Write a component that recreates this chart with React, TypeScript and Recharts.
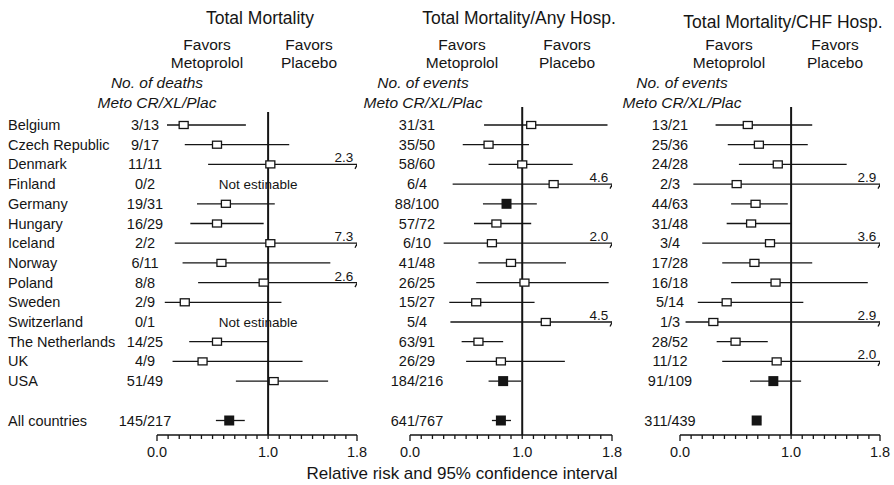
import React from 'react';
import { ComposedChart, Scatter, XAxis, YAxis, ErrorBar, ReferenceLine } from 'recharts';

const FONT = '"Liberation Sans", Arial, Helvetica, sans-serif';
const INK = '#151515';

// rows: 14 countries, a blank line, then the pooled estimate
const countries = [
  'Belgium', 'Czech Republic', 'Denmark', 'Finland', 'Germany', 'Hungary', 'Iceland',
  'Norway', 'Poland', 'Sweden', 'Switzerland', 'The Netherlands', 'UK', 'USA', 'All countries',
];
const rowPos = [0, 1, 2, 3, 4, 5, 6, 7, 8, 9, 10, 11, 12, 13, 15];

const xTicks = [0, 0.1, 0.2, 0.3, 0.4, 0.5, 0.6, 0.7, 0.8, 0.9, 1, 1.1, 1.2, 1.3, 1.4, 1.5, 1.6, 1.7, 1.8];
const xTickLabels = ['0.0', '1.0', '1.8'];

// Total mortality
const mortCounts = ['3/13', '9/17', '11/11', '0/2', '19/31', '16/29', '2/2', '6/11', '8/8', '2/9', '0/1', '14/25', '4/9', '51/49', '145/217'];
const mortRR = [0.24, 0.54, 1.02, null, 0.62, 0.54, 1.02, 0.58, 0.96, 0.25, null, 0.54, 0.41, 1.05, 0.65];
const mortLow = [0.09, 0.25, 0.46, null, 0.36, 0.30, 0.16, 0.23, 0.37, 0.07, null, 0.29, 0.14, 0.71, 0.53];
const mortHigh = [0.80, 1.19, 2.3, null, 1.06, 0.96, 7.3, 1.56, 2.6, 1.12, null, 1.0, 1.31, 1.54, 0.79];
const mortFilled = ['All countries'];

// Total mortality / any hospitalisation
const anyCounts = ['31/31', '35/50', '58/60', '6/4', '88/100', '57/72', '6/10', '41/48', '26/25', '15/27', '5/4', '63/91', '26/29', '184/216', '641/767'];
const anyRR = [1.08, 0.70, 1.0, 1.28, 0.86, 0.77, 0.73, 0.90, 1.02, 0.59, 1.21, 0.61, 0.81, 0.83, 0.81];
const anyLow = [0.66, 0.47, 0.70, 0.38, 0.65, 0.57, 0.30, 0.61, 0.59, 0.35, 0.36, 0.46, 0.50, 0.70, 0.73];
const anyHigh = [1.76, 1.06, 1.45, 4.6, 1.13, 1.08, 2.0, 1.39, 1.77, 1.11, 4.5, 0.83, 1.38, 0.99, 0.90];
const anyFilled = ['Germany', 'USA', 'All countries'];

// Total mortality / CHF hospitalisation
const chfCounts = ['13/21', '25/36', '24/28', '2/3', '44/63', '31/48', '3/4', '17/28', '16/18', '5/14', '1/3', '28/52', '11/12', '91/109', '311/439'];
const chfRR = [0.61, 0.71, 0.88, 0.51, 0.68, 0.64, 0.81, 0.67, 0.86, 0.42, 0.30, 0.50, 0.87, 0.84, 0.69];
const chfLow = [0.32, 0.43, 0.53, 0.12, 0.46, 0.42, 0.20, 0.38, 0.46, 0.16, 0.05, 0.33, 0.38, 0.63, 0.65];
const chfHigh = [1.19, 1.15, 1.50, 2.9, 0.97, 1.0, 3.6, 1.19, 1.69, 1.11, 2.9, 0.79, 2.0, 1.09, 0.73];
const chfFilled = ['USA', 'All countries'];

const XMAX = 1.8;
const NOT_EST_X = 0.91;
const ROW_Y0 = 125;
const ROW_STEP = 19.7;
const AXIS_Y = 435;
const TICK_SIZE = 4;
const TICK_MARGIN = 8;

function buildRows(rr, low, high, filled) {
  const marks = [];
  const cuts = [];
  const missing = [];
  rr.forEach((v, i) => {
    if (v === null) {
      missing.push({ x: NOT_EST_X, y: rowPos[i] });
      return;
    }
    const hi = Math.min(high[i], XMAX);
    marks.push({ x: v, y: rowPos[i], err: [v - low[i], hi - v], filled: filled.includes(countries[i]) });
    if (high[i] > XMAX) cuts.push({ x: XMAX, y: rowPos[i], label: high[i].toFixed(1) });
  });
  return { marks, cuts, missing };
}

const Marker = (props: any) => {
  const { cx, cy, payload } = props;
  if (payload.filled) return <rect x={cx - 5} y={cy - 5} width={10} height={10} fill={INK} />;
  return <rect x={cx - 4.5} y={cy - 3.5} width={9} height={7} fill="#fff" stroke={INK} strokeWidth={1.3} />;
};

const CutMark = (props: any) => {
  const { cx, cy, payload } = props;
  return (
    <g>
      <line x1={cx - 2} y1={cy + 4.5} x2={cx + 2.5} y2={cy - 4} stroke={INK} strokeWidth={1.3} />
      <text x={cx - 13} y={cy - 2} textAnchor="middle" fontSize={13.5} fill={INK} fontFamily={FONT}>
        {payload.label}
      </text>
    </g>
  );
};

const NotEst = (props: any) => (
  <text x={props.cx} y={props.cy} dy="0.35em" textAnchor="middle" fontSize={13.5} fill={INK} fontFamily={FONT}>
    Not estinable
  </text>
);

const AxisTick = (props: any) => {
  const { x, y, payload } = props;
  const axisY = y - TICK_SIZE - TICK_MARGIN;
  const label = payload.value.toFixed(1);
  const shown = xTickLabels.includes(label);
  const long = label === '0.0' || label === '1.8';
  return (
    <g>
      <line x1={x} x2={x} y1={axisY} y2={axisY + (long ? 6 : 4)} stroke={INK} strokeWidth={1.3} />
      {shown && (
        <text x={x} y={axisY + 12} dy="0.71em" textAnchor="middle" fontSize={14.5} fill={INK} fontFamily={FONT}>
          {label}
        </text>
      )}
    </g>
  );
};

const panels = [
  { counts: mortCounts, rows: buildRows(mortRR, mortLow, mortHigh, mortFilled), left: 157, width: 200, top: 112, countX: 145, names: true },
  { counts: anyCounts, rows: buildRows(anyRR, anyLow, anyHigh, anyFilled), left: 410, width: 202, top: 107, countX: 417, names: false },
  { counts: chfCounts, rows: buildRows(chfRR, chfLow, chfHigh, chfFilled), left: 680, width: 200, top: 107, countX: 670, names: false },
];

const Panel = ({ p }: any) => {
  const yTop = (p.top - ROW_Y0) / ROW_STEP;
  const yBottom = (AXIS_Y - ROW_Y0) / ROW_STEP;
  const RowTick = (t: any) => {
    const i = rowPos.indexOf(t.payload.value);
    if (i < 0) return <g />;
    return (
      <g>
        {p.names && (
          <text x={8} y={t.y} dy="0.35em" fontSize={14.5} fill={INK} fontFamily={FONT}>
            {countries[i]}
          </text>
        )}
        <text x={p.countX} y={t.y} dy="0.35em" textAnchor="middle" fontSize={14.5} fill={INK} fontFamily={FONT}>
          {p.counts[i]}
        </text>
      </g>
    );
  };
  return (
    <div style={{ position: 'absolute', left: 0, top: 0 }}>
      <ComposedChart
        width={894}
        height={485}
        margin={{ top: p.top, left: 0, right: 894 - p.left - p.width, bottom: 485 - AXIS_Y - 30 }}
      >
        <XAxis
          type="number"
          dataKey="x"
          domain={[0, XMAX]}
          ticks={xTicks}
          interval={0}
          allowDataOverflow
          height={30}
          tickSize={TICK_SIZE}
          tickMargin={TICK_MARGIN}
          tickLine={false}
          axisLine={{ stroke: INK, strokeWidth: 1.6 }}
          tick={<AxisTick />}
        />
        <YAxis
          type="number"
          dataKey="y"
          domain={[yTop, yBottom]}
          reversed
          allowDataOverflow
          ticks={rowPos}
          interval={0}
          width={p.left}
          axisLine={false}
          tickLine={false}
          tick={RowTick}
        />
        <ReferenceLine x={1} stroke={INK} strokeWidth={2} />
        <Scatter data={p.rows.marks} shape={Marker} isAnimationActive={false}>
          <ErrorBar dataKey="err" direction="x" width={0} stroke={INK} strokeWidth={1.3} isAnimationActive={false} />
        </Scatter>
        <Scatter data={p.rows.cuts} shape={CutMark} isAnimationActive={false} />
        <Scatter data={p.rows.missing} shape={NotEst} isAnimationActive={false} />
      </ComposedChart>
    </div>
  );
};

const headers = [
  { title: 'Total Mortality', titleX: 260, titleY: 18, metoX: 207, placX: 309, unit: 'No. of deaths', unitX: 157 },
  { title: 'Total Mortality/Any Hosp.', titleX: 519, titleY: 18, metoX: 462, placX: 567, unit: 'No. of events', unitX: 423 },
  { title: 'Total Mortality/CHF Hosp.', titleX: 783, titleY: 22, metoX: 729, placX: 835, unit: 'No. of events', unitX: 682 },
];

export default function App() {
  const t = { fill: INK, fontFamily: FONT, textAnchor: 'middle' as const, dy: '0.35em' };
  return (
    <div style={{ position: 'absolute', left: 0, top: 0, width: 894, height: 485, background: '#fff', overflow: 'hidden' }}>
      <svg width={894} height={485} style={{ position: 'absolute', left: 0, top: 0 }}>
        {headers.map((h) => (
          <g key={h.title}>
            <text x={h.titleX} y={h.titleY} fontSize={17.5} {...t}>{h.title}</text>
            <text x={h.metoX} y={45} fontSize={15.5} {...t}>Favors</text>
            <text x={h.metoX} y={63} fontSize={15.5} {...t}>Metoprolol</text>
            <text x={h.placX} y={45} fontSize={15.5} {...t}>Favors</text>
            <text x={h.placX} y={63} fontSize={15.5} {...t}>Placebo</text>
            <text x={h.unitX} y={83} fontSize={15.5} fontStyle="italic" {...t}>{h.unit}</text>
            <text x={h.unitX} y={103} fontSize={15.5} fontStyle="italic" {...t}>Meto CR/XL/Plac</text>
          </g>
        ))}
        <text x={462} y={473} fontSize={17} {...t}>Relative risk and 95% confidence interval</text>
      </svg>
      {panels.map((p, i) => (
        <Panel key={i} p={p} />
      ))}
    </div>
  );
}
